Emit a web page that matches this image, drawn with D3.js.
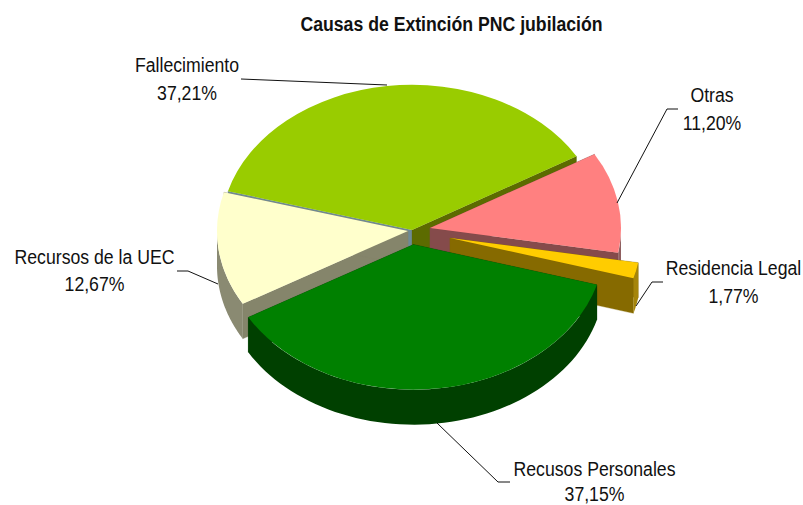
<!DOCTYPE html>
<html><head><meta charset="utf-8">
<script src="https://cdn.jsdelivr.net/npm/d3@7/dist/d3.min.js"></script>
<style>html,body{margin:0;padding:0;background:#fff}svg{display:block}</style>
</head><body><svg id="c" width="803" height="505"></svg>
<script>
// Data
const categories = ["Fallecimiento","Otras","Residencia Legal","Recusos Personales","Recursos de la UEC"];
const values = [37.21,11.20,1.77,37.15,12.67];
const valueLabels = ["37,21%","11,20%","1,77%","37,15%","12,67%"];
const title = "Causas de Extinción PNC jubilación";
// Styles
const topColors = ["#99cc00","#ff8080","#ffcc00","#008000","#ffffcc"];
const rimColors = ["#5c6b00","#8f5f5f","#a5850a","#004000","#8a8a72"];
const endCutColors = ["#5c6b00","#854b4b","#866a00","#004000","#85856b"];
const startCutColors = ["#6f8a96","#854b4b","#866a00","#004000","#85856b"];
const apexOffsets = [[0,-7],[18,-9],[38,1],[1.5,7.5],[-4,-6]];
const drawOrder = [0,1,2,4,3];
const labelSpots = [[187,72,99.5],[712,102,130],[733.5,275,302.5],[594.5,476,500.8],[94.5,263.5,290.5]];
const leaders = [
  [[241,79],[387,85]],
  [[678,109],[667,109],[617,203]],
  [[663,282],[652,282],[636,306]],
  [[510,482],[498,482],[437,423]],
  [[177,271],[188,271],[218,284]]
];
// Layout
const cx=412, cy=237, rx=191, k=0.76, depth=35, startDeg=-74.5, fontSize=20, textScale=0.883;

const svg=d3.select("#c");
const pie=d3.pie().sort(null).startAngle(startDeg*Math.PI/180).endAngle((startDeg+360)*Math.PI/180);
const arcs=pie(values);
const arc=d3.arc().innerRadius(0).outerRadius(rx);
const line=d3.line();
const pt=(a,o,dy=0)=>[cx+o[0]+rx*Math.sin(a), cy+o[1]+dy-rx*k*Math.cos(a)];

drawOrder.forEach(i=>{
  const d=arcs[i], o=apexOffsets[i], g=svg.append("g");
  const apex=[cx+o[0],cy+o[1]], apexB=[apex[0],apex[1]+depth];
  const cut=(a,c)=>g.append("path").attr("d",line([apex,pt(a,o),pt(a,o,depth),apexB])+"Z").attr("fill",c).attr("stroke",c).attr("stroke-width",0.3);
  cut(d.startAngle,startCutColors[i]);
  cut(d.endAngle,endCutColors[i]);
  const lo=Math.max(d.startAngle,Math.PI/2), hi=Math.min(d.endAngle,3*Math.PI/2);
  if(hi>lo){
    const as=d3.range(0,61).map(t=>lo+(hi-lo)*t/60);
    const pts=as.map(a=>pt(a,o)).concat(as.slice().reverse().map(a=>pt(a,o,depth)));
    g.append("path").attr("d",line(pts)+"Z").attr("fill",rimColors[i]);
  }
  g.append("path").attr("d",arc(d))
    .attr("transform",`translate(${apex[0]},${apex[1]}) scale(1,${k})`)
    .attr("fill",topColors[i]);
});

// Leader lines
svg.append("g").selectAll("path").data(leaders).join("path")
  .attr("d",d=>line(d)).attr("fill","none").attr("stroke","#111").attr("stroke-width",1);

// Labels
const font='"Liberation Sans",Arial,sans-serif';
const put=(x,y,t,w)=>svg.append("text").attr("transform",`translate(${x},${y}) scale(${textScale},1)`)
  .attr("text-anchor","middle").attr("font-family",font).attr("font-size",fontSize)
  .attr("font-weight",w).attr("fill","#111").text(t);
categories.forEach((c,i)=>{
  const [x,y1,y2]=labelSpots[i];
  put(x,y1,c,"normal");
  put(x,y2,valueLabels[i],"normal");
});
put(451.5,30.5,title,"bold");
</script></body></html>
